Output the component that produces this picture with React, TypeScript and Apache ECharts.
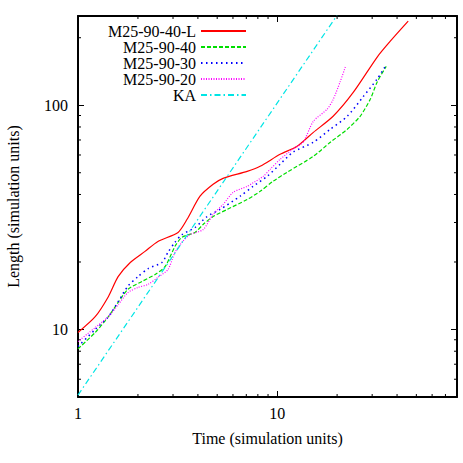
import React, { useEffect, useRef } from "react";
import * as echarts from "echarts";

// Time (simulation units) / Length (simulation units)
const m2590_40L: [number, number][] = [
  [1, 9.7], [1.22, 11.4], [1.42, 14.0], [1.59, 17.2], [1.83, 19.9], [2.17, 22.3],
  [2.52, 24.7], [3.18, 27.1], [3.53, 31.0], [4.1, 39.3], [4.77, 44.4], [5.35, 47.2],
  [7.07, 50.7], [8.21, 53.4], [10.35, 60.4], [12.6, 65.6], [15.2, 75.7], [19.1, 89.3],
  [24.1, 114], [31.8, 164], [37.0, 193], [45.5, 237],
];
const m2590_40: [number, number][] = [
  [1, 8.2], [1.22, 9.7], [1.42, 11.4], [1.59, 13.2], [1.78, 15.1], [2.1, 16.4],
  [2.44, 17.6], [2.74, 19.1], [3.07, 23.5], [3.33, 25.8], [3.87, 27.1], [4.25, 29.4],
  [4.77, 31.9], [5.61, 34.3], [7.07, 38.0], [8.21, 41.3], [9.54, 45.8], [11.2, 50.2],
  [15.2, 59.2], [18.5, 68.4], [22.5, 78.2], [26.1, 89.3], [29.3, 106], [31.8, 127],
  [35.3, 149],
];
const m2590_30: [number, number][] = [
  [1, 8.4], [1.22, 10.0], [1.42, 11.4], [1.59, 13.3], [1.78, 15.6], [2.0, 17.2],
  [2.25, 18.7], [2.64, 19.9], [2.83, 22.1], [3.07, 24.5], [3.33, 26.5], [3.87, 28.5],
  [4.45, 31.9], [5.17, 34.3], [6.52, 39.3], [7.57, 43.5], [8.91, 48.2], [10.35, 54.6],
  [12.0, 61.7], [15.2, 68.4], [18.5, 78.2], [22.5, 89.3], [27.0, 109], [31.8, 131],
  [34.9, 149],
];
const m2590_20: [number, number][] = [
  [1, 8.84], [1.22, 10.2], [1.42, 11.4], [1.59, 12.9], [1.78, 14.6], [2.0, 15.4],
  [2.25, 15.9], [2.52, 17.1], [2.83, 18.5], [3.07, 22.1], [3.33, 24.5], [3.65, 26.5],
  [4.25, 27.9], [4.77, 32.6], [5.35, 36.1], [6.01, 40.9], [7.07, 43.5], [8.51, 48.2],
  [9.22, 51.8], [10.35, 57.4], [12.0, 63.7], [13.5, 68.4], [15.2, 84.8], [17.8, 95.9],
  [19.1, 106], [20.7, 127], [22.0, 148],
];
const ka: [number, number][] = [[1, 5.1], [20, 252]];

const X_MIN = 1;
const X_MAX = 80;
const Y_MIN = 5;
const Y_MAX = 250;
const xMinorTicks = [2, 3, 4, 5, 6, 7, 8, 9, 20, 30, 40, 50, 60, 70];
const yMinorTicks = [6, 7, 8, 9, 20, 30, 40, 50, 60, 70, 80, 90, 200];

const FONT = "Liberation Serif";

export default function App() {
  const ref = useRef<HTMLDivElement>(null);
  useEffect(() => {
    if (!ref.current) return;
    const chart = echarts.init(ref.current, undefined, { renderer: "svg" });
    const isPow10 = (v: number) => Math.abs(Math.log10(v) - Math.round(Math.log10(v))) < 1e-6;
    const axisCommon = {
      type: "log" as const,
      logBase: 10,
      axisLine: { show: true, lineStyle: { color: "#000", width: 2 } },
      axisTick: { show: true, inside: true, length: 6, lineStyle: { color: "#000", width: 1 } },
      splitLine: { show: false },
    };
    const lineSeries = (name: string, data: [number, number][], color: string, type: any, width = 1.2, smooth: number | boolean = 0.25) => ({
      name,
      type: "line",
      data,
      showSymbol: false,
      symbol: "none",
      smooth,
      xAxisIndex: 0,
      yAxisIndex: 0,
      lineStyle: { color, width, type },
      itemStyle: { color },
      clip: true,
      z: 3,
    });
    const tickLine = (x1: number, y1: number, x2: number, y2: number) => ({
      type: "line",
      shape: { x1, y1, x2, y2 },
      style: { stroke: "#000", lineWidth: 1 },
    });
    chart.setOption({
      animation: false,
      backgroundColor: "#fff",
      grid: { left: 78, right: 6, top: 16, bottom: 66, containLabel: false, outerBoundsMode: "none" },
      legend: {
        orient: "vertical",
        align: "right",
        right: 216,
        top: 23,
        padding: 0,
        itemWidth: 45,
        itemHeight: 10,
        itemGap: 0,
        itemStyle: { opacity: 0, color: "transparent", borderWidth: 0 },
        data: ["M25-90-40-L", "M25-90-40", "M25-90-30", "M25-90-20", "KA"],
        textStyle: { fontFamily: FONT, fontSize: 16, color: "#000", lineHeight: 16 },
        selectedMode: false,
      },
      xAxis: [
        {
          ...axisCommon,
          min: X_MIN,
          max: X_MAX,
          position: "bottom",
          name: "Time (simulation units)",
          nameLocation: "middle",
          nameGap: 33,
          nameTextStyle: { fontFamily: FONT, fontSize: 16, color: "#000" },
          axisLabel: {
            fontFamily: FONT,
            fontSize: 16,
            color: "#000",
            margin: 8,
            formatter: (v: number) => (isPow10(v) ? String(Math.round(v)) : ""),
          },
        },
        {
          ...axisCommon,
          min: X_MIN,
          max: X_MAX,
          position: "top",
          axisLabel: { show: false },
        },
      ],
      yAxis: [
        {
          ...axisCommon,
          min: Y_MIN,
          max: Y_MAX,
          position: "left",
          name: "Length (simulation units)",
          nameLocation: "middle",
          nameGap: 57,
          nameTextStyle: { fontFamily: FONT, fontSize: 16, color: "#000" },
          axisLabel: {
            fontFamily: FONT,
            fontSize: 16,
            color: "#000",
            margin: 10,
            formatter: (v: number) => (isPow10(v) ? String(Math.round(v)) : ""),
          },
        },
        {
          ...axisCommon,
          min: Y_MIN,
          max: Y_MAX,
          position: "right",
          axisLabel: { show: false },
        },
      ],
      series: [
        lineSeries("M25-90-40-L", m2590_40L, "#ff0000", "solid"),
        lineSeries("M25-90-40", m2590_40, "#00dd00", [4, 2]),
        lineSeries("M25-90-30", m2590_30, "#0000ff", [1.5, 3.5], 1.5),
        lineSeries("M25-90-20", m2590_20, "#ff00ff", [1, 1.5]),
        lineSeries("KA", ka, "#00e5e5", [6, 3, 1.5, 3], 1.2, false),
        {
          type: "custom",
          name: "xminor",
          xAxisIndex: 0,
          yAxisIndex: 0,
          silent: true,
          clip: false,
          data: xMinorTicks.map((v) => [v, Y_MIN]),
          renderItem: (_p: any, api: any) => {
            const v = api.value(0);
            const b = api.coord([v, Y_MIN]);
            const t = api.coord([v, Y_MAX]);
            return {
              type: "group",
              children: [tickLine(b[0], b[1], b[0], b[1] - 3), tickLine(t[0], t[1], t[0], t[1] + 3)],
            };
          },
        },
        {
          type: "custom",
          name: "yminor",
          xAxisIndex: 0,
          yAxisIndex: 0,
          silent: true,
          clip: false,
          data: yMinorTicks.map((v) => [X_MIN, v]),
          renderItem: (_p: any, api: any) => {
            const v = api.value(1);
            const l = api.coord([X_MIN, v]);
            const r = api.coord([X_MAX, v]);
            return {
              type: "group",
              children: [tickLine(l[0], l[1], l[0] + 3, l[1]), tickLine(r[0], r[1], r[0] - 3, r[1])],
            };
          },
        },
      ],
    });
    return () => chart.dispose();
  }, []);
  return <div ref={ref} style={{ width: 463, height: 463, position: "absolute", left: 0, top: 0 }} />;
}
